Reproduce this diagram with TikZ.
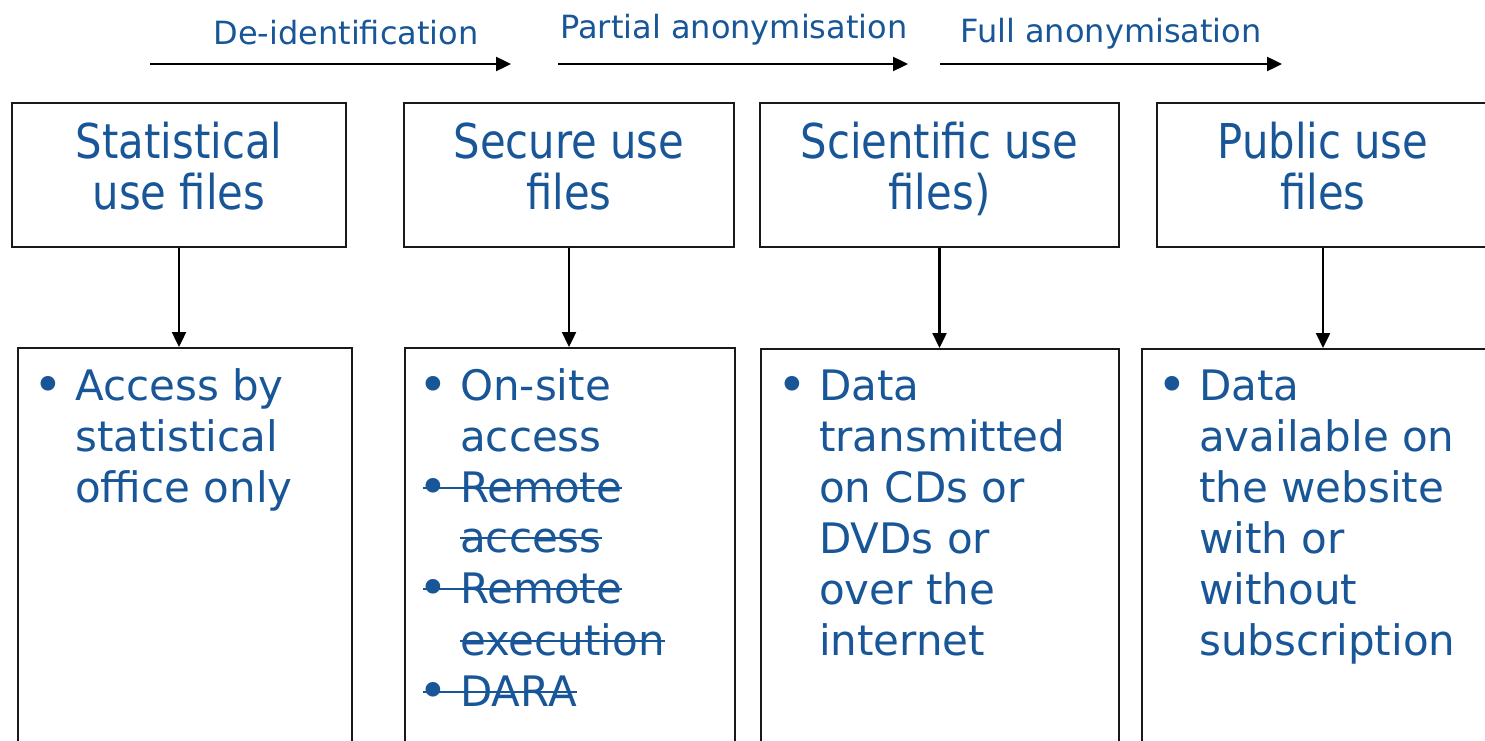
\documentclass[tikz,border=0pt]{standalone}
\usepackage{fontspec}
\setmainfont{DejaVu Sans}
\newfontfamily\headfont[FakeStretch=0.87]{DejaVu Sans}
\usepackage{graphicx}
\usepackage{tikz}
\usetikzlibrary{arrows.meta}
\usepackage{xcolor}
\definecolor{txtblue}{RGB}{24,86,152}
\newcommand\bul{\hbox to 42pt{\raisebox{-2pt}{\scalebox{1.2}{\textbullet}}\hfil}}
\newcommand\ind{\hspace*{42pt}}
\tikzset{
  frame/.style={draw=black!90, line width=1.8pt, inner sep=0pt},
  headtxt/.style={txtblue, inner sep=0pt, align=center, anchor=north,
    font=\headfont\fontsize{48}{51}\selectfont},
  bodytxt/.style={txtblue, inner sep=0pt, align=left, anchor=north west,
    font=\fontsize{42}{51}\selectfont},
  gonetxt/.style={txtblue, inner sep=0pt, anchor=base west, font=\fontsize{42}{51}\selectfont},
  strike/.style={txtblue, line width=2.8pt},
  steptxt/.style={txtblue, inner sep=0pt, anchor=base, font=\fontsize{32}{36}\selectfont},
  flow/.style={line width=2.4pt, -{Triangle[length=15pt,width=14pt]}}
}

\begin{document}
\begin{tikzpicture}[x=1pt,y=-1pt]
\useasboundingbox (0,0) rectangle (1485,741);
\clip (0,0) rectangle (1485,741);

% anonymisation steps
\coordinate (s0) at (150,64);  \coordinate (s1) at (511,64);
\coordinate (s2) at (558,64);  \coordinate (s3) at (908,64);
\coordinate (s4) at (940,64);  \coordinate (s5) at (1282,64);
\draw [flow] (s0) -- (s1);
\draw [flow] (s2) -- (s3);
\draw [flow] (s4) -- (s5);
\node [steptxt] (deid) at (346,45) {De-identification};
\node [steptxt] (part) at (734,39) {Partial anonymisation};
\node [steptxt] (full) at (1111,43) {Full anonymisation};

% file types
\node [frame, minimum width=334, minimum height=144] (hstat) at (179,175) {};
\node [frame, minimum width=330, minimum height=144] (hsec)  at (569,175) {};
\node [frame, minimum width=359, minimum height=144] (hsci)  at (939.5,175) {};
\node [frame, minimum width=332, minimum height=144] (hpub)  at (1323,175) {};
\node [headtxt] (tstat) at (179,120) {\rule{0pt}{38pt}Statistical\\use files};
\node [headtxt] (tsec)  at (569,120) {\rule{0pt}{38pt}Secure use\\files};
\node [headtxt] (tsci)  at (939.5,120) {\rule{0pt}{38pt}Scientific use\\files)};
\node [headtxt] (tpub)  at (1323,120) {\rule{0pt}{38pt}Public use\\files};

% access
\node [frame, anchor=north west, minimum width=334, minimum height=450] (bstat) at (17,347) {};
\node [frame, anchor=north west, minimum width=330, minimum height=450] (bsec)  at (404,347) {};
\node [frame, anchor=north west, minimum width=358, minimum height=450] (bsci)  at (760,348) {};
\node [frame, anchor=north west, minimum width=360, minimum height=450] (bpub)  at (1141,348) {};

\node [bodytxt] (astat) at (33,364) {\rule{0pt}{36pt}\bul Access by\\\ind statistical\\\ind office only};
\node [bodytxt] (asec)  at (418,364) {\rule{0pt}{36pt}\bul On-site\\\ind access};
\node [gonetxt] (rem1)  at (418,502) {\bul Remote};
\node [gonetxt] (rem1b) at (460,552) {access};
\node [gonetxt] (rem2)  at (418,603) {\bul Remote};
\node [gonetxt] (rem2b) at (460,655) {execution};
\node [gonetxt] (dara)  at (418,706) {\bul DARA};
\foreach \n in {rem1, rem2, dara}
  \draw [strike] ([xshift=5pt,yshift=14pt]\n.base west) -- ([yshift=14pt]\n.base east);
\foreach \n in {rem1b, rem2b}
  \draw [strike] ([yshift=14pt]\n.base west) -- ([yshift=14pt]\n.base east);
\node [bodytxt] (asci)  at (777,364) {\rule{0pt}{36pt}\bul Data\\\ind transmitted\\\ind on CDs or\\\ind DVDs or\\\ind over the\\\ind internet};
\node [bodytxt] (apub)  at (1157,364) {\rule{0pt}{36pt}\bul Data\\\ind available on\\\ind the website\\\ind with or\\\ind without\\\ind subscription};

\foreach \h/\b in {hstat/bstat, hsec/bsec, hsci/bsci, hpub/bpub}
  \draw [flow] (\h.south) -- (\h.south |- \b.north);
\end{tikzpicture}
\end{document}
